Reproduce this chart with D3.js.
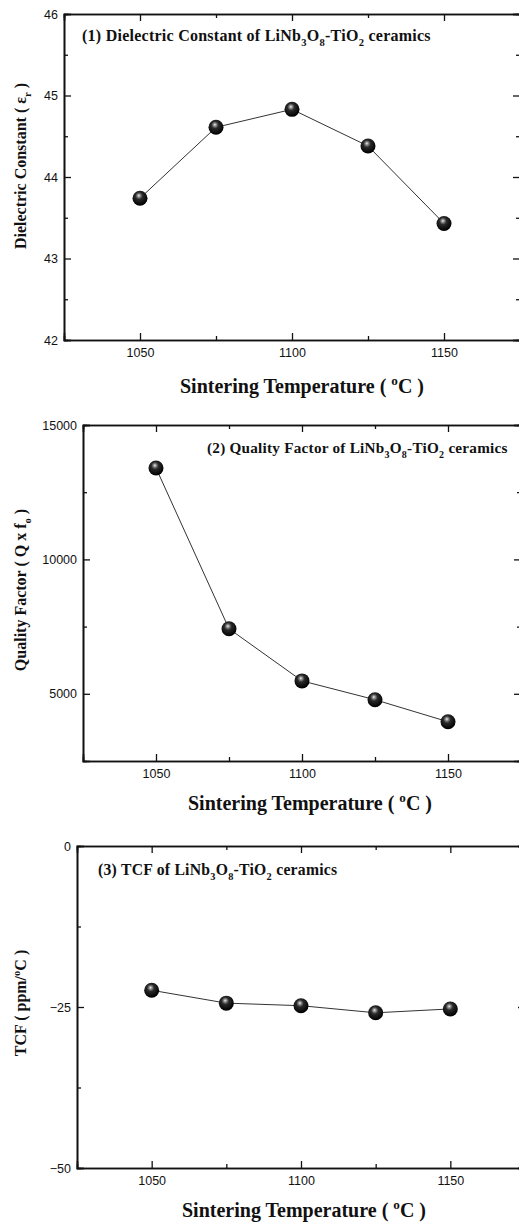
<!DOCTYPE html>
<html>
<head>
<meta charset="utf-8">
<script src="https://cdn.jsdelivr.net/npm/d3@7"></script>
<style>
  body { margin: 0; background: #fff; }
  svg { display: block; }
  .tick text { font-family: "Liberation Sans", Arial, sans-serif; font-size: 12.5px; fill: #111; }
  .lbl { font-family: "Liberation Serif", "Times New Roman", serif; font-weight: bold; fill: #111; }
</style>
</head>
<body>
<div id="chart"></div>
<script>
// sintering temperatures (deg C)
var temps = [1050, 1075, 1100, 1125, 1150];
// (1) dielectric constant
var dielectric = [43.74, 44.61, 44.83, 44.38, 43.43];
// (2) quality factor Q x fo
var quality = [13400, 7420, 5480, 4780, 3960];
// (3) TCF ppm/C
var tcf = [-22.4, -24.4, -24.8, -25.9, -25.3];

var xMajor = [1050, 1100, 1150];
var xMinor = [1075, 1125];

var panels = [
  { values: dielectric, domain: [42, 46], major: [42, 43, 44, 45, 46], minor: [42.5, 43.5, 44.5, 45.5],
    box: { l: 64, r: 520, t: 14, b: 340 },
    title: [["(1) Dielectric Constant of LiNb"], ["3", "sub"], ["O"], ["8", "sub"], ["-TiO"], ["2", "sub"], [" ceramics"]],
    titleX: 82, titleY: 41, titleSize: 16,
    ylab: [["Dielectric Constant ( ε"], ["r", "sub"], [" )"]], ylabY: 166, xlabY: 393, xlabX: 180 },
  { values: quality, domain: [2500, 15000], major: [5000, 10000, 15000], minor: [7500, 12500],
    box: { l: 83, r: 521, t: 425, b: 761 },
    title: [["(2) Quality Factor of LiNb"], ["3", "sub"], ["O"], ["8", "sub"], ["-TiO"], ["2", "sub"], [" ceramics"]],
    titleX: 207, titleY: 453, titleSize: 15.2,
    ylab: [["Quality Factor ( Q x f"], ["o", "sub"], [" )"]], ylabY: 590, xlabY: 810, xlabX: 188 },
  { values: tcf, domain: [-50, 0], major: [-50, -25, 0], minor: [-37.5, -12.5],
    box: { l: 77, r: 525, t: 846, b: 1168 },
    title: [["(3) TCF of LiNb"], ["3", "sub"], ["O"], ["8", "sub"], ["-TiO"], ["2", "sub"], [" ceramics"]],
    titleX: 98, titleY: 875, titleSize: 15.7,
    ylab: [["TCF ( ppm/"], ["o", "sup"], ["C )"]], ylabY: 1003, xlabY: 1217, xlabX: 182 }
];

var svg = d3.select("#chart").append("svg")
  .attr("width", 519)
  .attr("height", 1223);

var grad = svg.append("defs").append("radialGradient")
  .attr("id", "ball").attr("cx", "45%").attr("cy", "38%").attr("r", "60%")
  .attr("fx", "42%").attr("fy", "32%");
grad.append("stop").attr("offset", "0%").attr("stop-color", "#f4f4f4");
grad.append("stop").attr("offset", "14%").attr("stop-color", "#9a9a9a");
grad.append("stop").attr("offset", "40%").attr("stop-color", "#2a2a2a");
grad.append("stop").attr("offset", "100%").attr("stop-color", "#000");

// writes text pieces with sub / superscripts; the shift back goes on the next piece
function richText(sel, parts, size) {
  var back = 0;
  parts.forEach(function(p) {
    var ts = sel.append("tspan").text(p[0]);
    if (p[1] == "sub") {
      ts.attr("font-size", size * 0.66).attr("dy", size * 0.3 + back);
      back = -size * 0.3;
    } else if (p[1] == "sup") {
      ts.attr("font-size", size * 0.66).attr("dy", -size * 0.4 + back);
      back = size * 0.4;
    } else {
      if (back) ts.attr("dy", back);
      back = 0;
    }
  });
}

function drawPanel(p) {
  var b = p.box;
  var x = d3.scaleLinear().domain([1025, 1175]).range([b.l, b.r]);
  var y = d3.scaleLinear().domain(p.domain).range([b.b, b.t]);
  var g = svg.append("g");

  // minor ticks first, then majors with labels
  var axes = [
    [d3.axisBottom(x).tickValues(xMinor).tickSize(-4).tickFormat(""), "translate(0," + b.b + ")"],
    [d3.axisBottom(x).tickValues(xMajor).tickSize(-7).tickPadding(8).tickFormat(d3.format("d")), "translate(0," + b.b + ")"],
    [d3.axisTop(x).tickValues(xMinor).tickSize(-4).tickFormat(""), "translate(0," + b.t + ")"],
    [d3.axisTop(x).tickValues(xMajor).tickSize(-7).tickFormat(""), "translate(0," + b.t + ")"],
    [d3.axisLeft(y).tickValues(p.minor).tickSize(-4).tickFormat(""), "translate(" + b.l + ",0)"],
    [d3.axisLeft(y).tickValues(p.major).tickSize(-7).tickPadding(6).tickFormat(d3.format("d")), "translate(" + b.l + ",0)"],
    [d3.axisRight(y).tickValues(p.minor).tickSize(-4).tickFormat(""), "translate(" + b.r + ",0)"],
    [d3.axisRight(y).tickValues(p.major).tickSize(-7).tickFormat(""), "translate(" + b.r + ",0)"]
  ];
  axes.forEach(function(a) {
    var ax = g.append("g").attr("transform", a[1]).call(a[0]);
    ax.select(".domain").attr("stroke", "#111").attr("stroke-width", 1.6);
    ax.selectAll(".tick line").attr("stroke", "#111").attr("stroke-width", 1.3);
  });

  var line = d3.line()
    .x(function(d, i) { return x(temps[i]); })
    .y(function(d) { return y(d); });

  g.append("path")
    .datum(p.values)
    .attr("d", line)
    .attr("fill", "none")
    .attr("stroke", "#333")
    .attr("stroke-width", 1);

  g.selectAll(".ball")
    .data(p.values)
    .enter().append("circle")
      .attr("class", "ball")
      .attr("cx", function(d, i) { return x(temps[i]); })
      .attr("cy", function(d) { return y(d); })
      .attr("r", 7.5)
      .attr("fill", "url(#ball)");

  var t = g.append("text").attr("class", "lbl")
    .attr("x", p.titleX).attr("y", p.titleY)
    .attr("font-size", p.titleSize)
    .attr("letter-spacing", 0.25);
  richText(t, p.title, p.titleSize);

  var yl = g.append("text").attr("class", "lbl")
    .attr("transform", "translate(26," + p.ylabY + ") rotate(-90)")
    .attr("text-anchor", "middle")
    .attr("font-size", 16);
  richText(yl, p.ylab, 16);

  var xl = g.append("text").attr("class", "lbl")
    .attr("x", p.xlabX).attr("y", p.xlabY)
    .attr("font-size", 20);
  richText(xl, [["Sintering Temperature ( "], ["o", "sup"], ["C  )"]], 20);
}

panels.forEach(drawPanel);
</script>
</body>
</html>
